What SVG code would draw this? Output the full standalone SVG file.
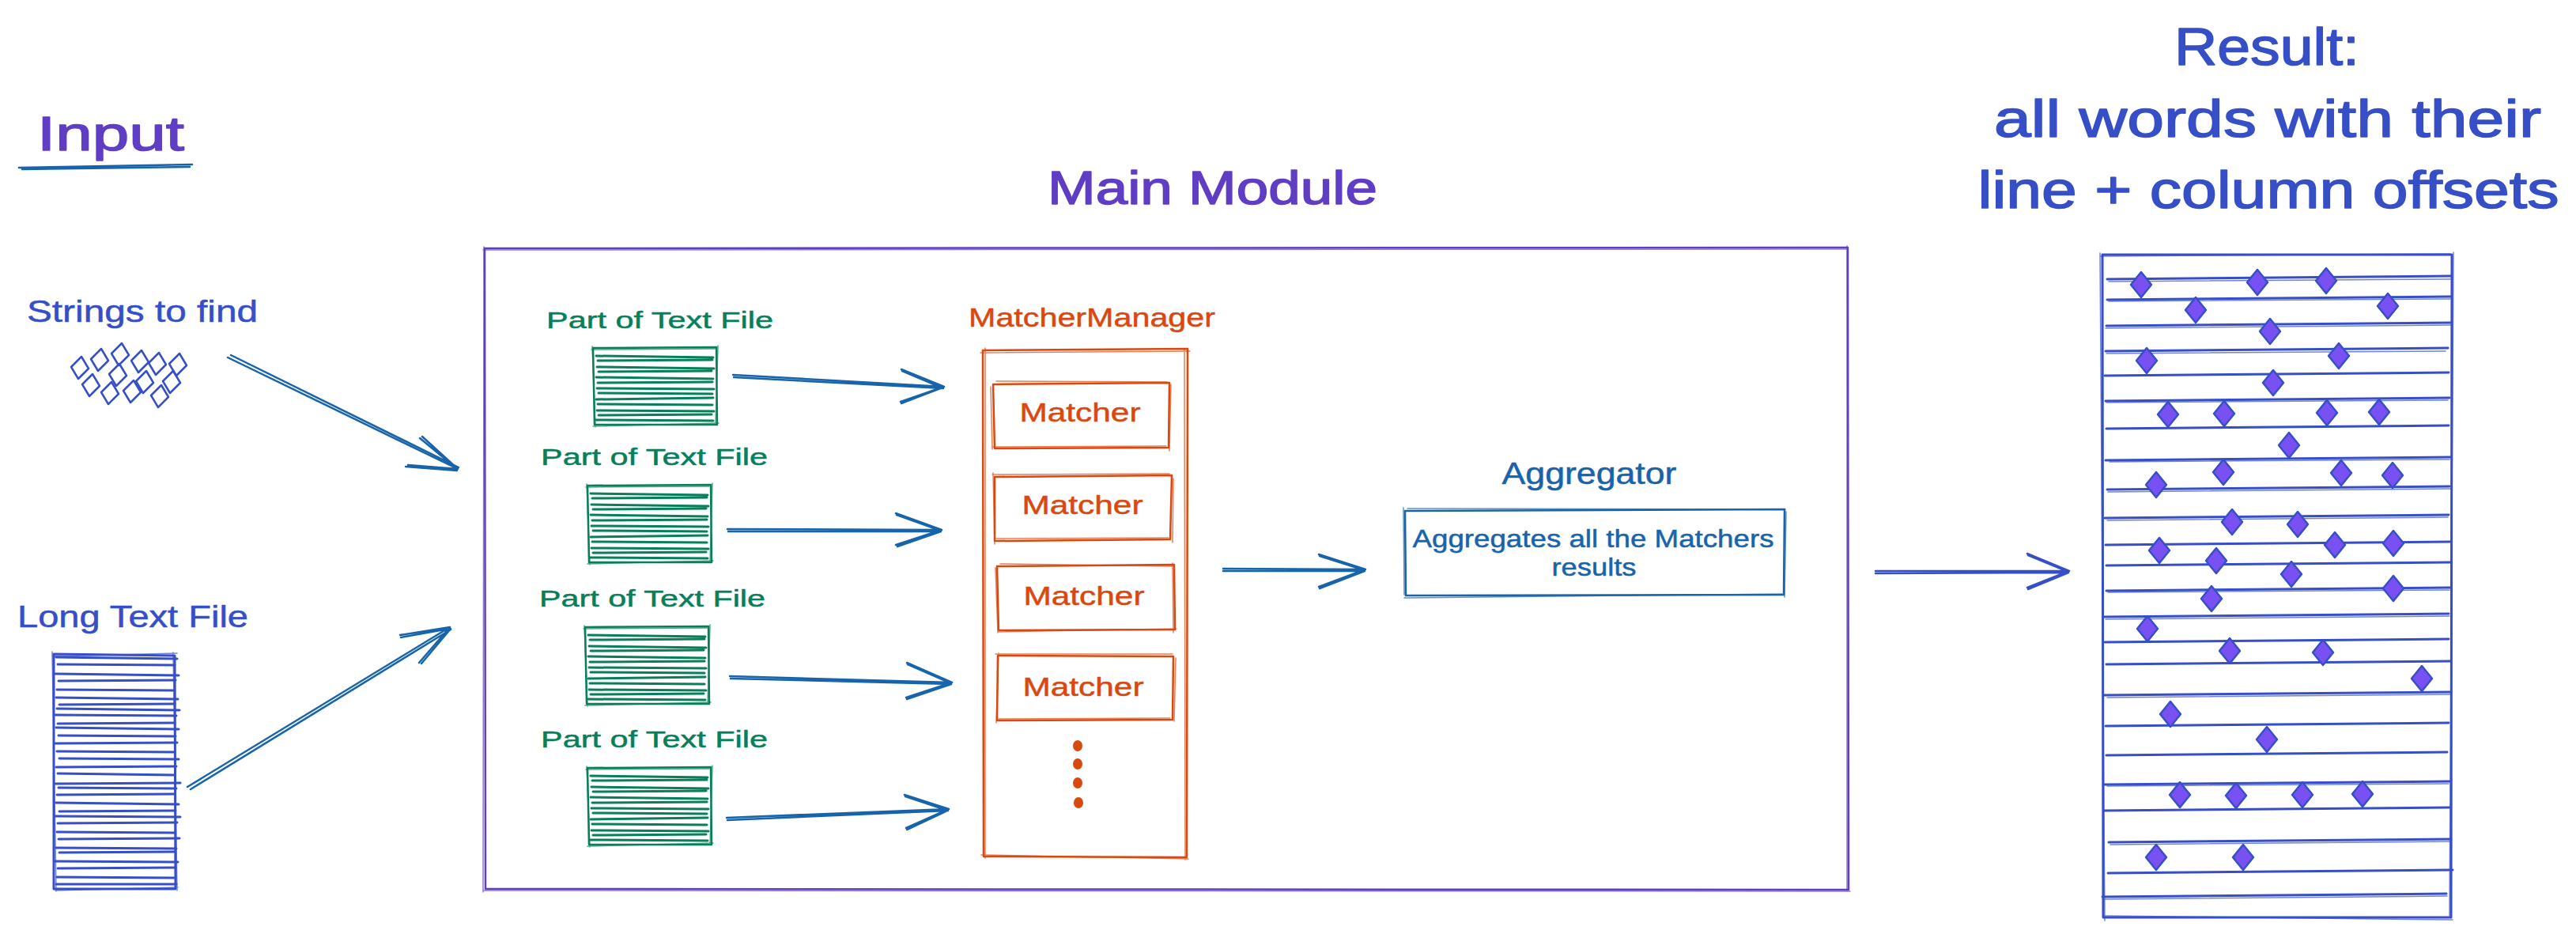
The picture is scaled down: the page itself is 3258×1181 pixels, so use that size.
<svg xmlns="http://www.w3.org/2000/svg" width="3258" height="1181" viewBox="0 0 3258 1181">
<style>
.s{fill:none;stroke-linecap:round;stroke-linejoin:round}
.v{stroke:#5f3dc4}
.b{stroke:#1864ab}
.i{stroke:#364fc7}
.g{stroke:#087f5b}
.o{stroke:#d9480f}
.w2{stroke-width:2.5}
.w3{stroke-width:3}
.f2{stroke-width:1.5;opacity:.7}
text{font-family:"Liberation Sans",Arial,sans-serif;stroke-linejoin:round;stroke-width:0.5}
.big{stroke-width:1.5}
.tv{fill:#5f3dc4;stroke:#5f3dc4}
.tb{fill:#1864ab;stroke:#1864ab}
.ti{fill:#364fc7;stroke:#364fc7}
.tg{fill:#087f5b;stroke:#087f5b}
.to{fill:#d9480f;stroke:#d9480f}
</style>
<defs>
<g id="stripes" class="s g">
<path class="w2" d="M-1 0 L155 -1 L156 97 L1 97 Z"/>
<path class="f2" d="M-3 2 L153 1 M157 -3 L154 96 M158 95 L-1 99 M2 100 L-2 -2"/>
<path class="w3" d="M3 10 L151 12 M5 16 L150 15 M4 24 L152 26 M6 30 L149 29 M3 37 L151 39 M5 44 L150 43 M4 51 L152 52 M6 57 L150 58 M3 65 L151 63 M5 71 L150 72 M4 79 L152 80 M6 85 L149 84 M3 91 L151 92"/>
</g>
<path id="dia" d="M0 -16 L13 0 L0 16 L-13 0 Z" fill="#7950f2" stroke="#364fc7" stroke-width="2.5" stroke-linejoin="round"/>
<path id="sdia" d="M2 -14 L11 1 L-2 14 L-11 -1 Z" fill="none" stroke="#364fc7" stroke-width="2.5" stroke-linejoin="round"/>
</defs>
<rect width="3258" height="1181" fill="#ffffff"/>

<g id="input-label">
<text class="tv big" x="47" y="190" font-size="62" textLength="186" lengthAdjust="spacingAndGlyphs">Input</text>
<path class="s b" stroke-width="2.5" d="M24 212 L243 208 M28 214 L240 211"/>
</g>

<g id="strings-to-find">
<text class="ti" x="34" y="407" font-size="38" textLength="292" lengthAdjust="spacingAndGlyphs">Strings to find</text>
<use href="#sdia" x="101" y="465"/>
<use href="#sdia" x="126" y="455"/>
<use href="#sdia" x="152" y="448"/>
<use href="#sdia" x="177" y="457"/>
<use href="#sdia" x="199" y="460"/>
<use href="#sdia" x="225" y="461"/>
<use href="#sdia" x="149" y="474"/>
<use href="#sdia" x="183" y="483"/>
<use href="#sdia" x="217" y="483"/>
<use href="#sdia" x="115" y="487"/>
<use href="#sdia" x="139" y="497"/>
<use href="#sdia" x="167" y="495"/>
<use href="#sdia" x="202" y="501"/>
</g>

<g id="long-text-file">
<text class="ti" x="22" y="793" font-size="38" textLength="292" lengthAdjust="spacingAndGlyphs">Long Text File</text>
<path class="s i w3" d="M68 827 L221 829 L222 1124 L68 1124 Z"/>
<path class="s i f2" d="M66 830 L224 826 M219 825 L224 1126 M225 1122 L70 1126 M71 1127 L66 824"/>
<path class="s i w3" d="M71 831 L224 833 M73 840 L221 841 M70 852 L226 854 M74 861 L222 860 M72 872 L219 873 M71 882 L225 884 M75 891 L221 890 M72 896 L227 898 M70 904 L223 905 M73 915 L221 914 M71 920 L226 922 M74 930 L222 931 M70 940 L224 939 M72 950 L220 951 M75 959 L226 960 M71 970 L223 969 M73 978 L221 980 M70 991 L228 990 M74 996 L223 997 M72 1005 L220 1004 M71 1015 L226 1017 M75 1026 L222 1025 M70 1032 L228 1033 M73 1041 L224 1040 M72 1052 L221 1053 M74 1061 L227 1060 M71 1072 L223 1073 M75 1078 L221 1077 M70 1089 L225 1090 M73 1098 L222 1097 M72 1109 L220 1110 M71 1118 L223 1118"/>
</g>

<g id="main-module">
<text class="tv big" x="1325" y="258" font-size="60" textLength="417" lengthAdjust="spacingAndGlyphs">Main Module</text>
<path class="s v w2" d="M613 314 L2337 313 L2338 1125 L614 1124 Z"/>
<path class="s v f2" d="M611 316 L2335 315 M2336 311 L2336 1127 M2340 1127 L612 1126 M611 1128 L612 312"/>
</g>

<g id="part1">
<text class="tg" x="691" y="415" font-size="30" textLength="287" lengthAdjust="spacingAndGlyphs">Part of Text File</text>
<use href="#stripes" x="751" y="440"/>
</g>
<g id="part2">
<text class="tg" x="684" y="588" font-size="30" textLength="287" lengthAdjust="spacingAndGlyphs">Part of Text File</text>
<use href="#stripes" x="744" y="614"/>
</g>
<g id="part3">
<text class="tg" x="682" y="767" font-size="30" textLength="286" lengthAdjust="spacingAndGlyphs">Part of Text File</text>
<use href="#stripes" x="741" y="793"/>
</g>
<g id="part4">
<text class="tg" x="684" y="945" font-size="30" textLength="287" lengthAdjust="spacingAndGlyphs">Part of Text File</text>
<use href="#stripes" x="744" y="971"/>
</g>

<g id="matcher-manager">
<text class="to" x="1225" y="413" font-size="34" textLength="312" lengthAdjust="spacingAndGlyphs">MatcherManager</text>
<path class="s o w2" d="M1243 443 L1502 441 L1501 1084 L1244 1083 Z"/>
<path class="s o f2" d="M1240 446 L1505 444 M1498 442 L1499 1087 M1503 1086 L1241 1081 M1246 1085 L1246 440"/>
<ellipse cx="1363" cy="943" rx="6" ry="7" fill="#d9480f"/>
<ellipse cx="1363" cy="966" rx="6" ry="7" fill="#d9480f"/>
<ellipse cx="1363" cy="990" rx="6" ry="7" fill="#d9480f"/>
<ellipse cx="1364" cy="1015" rx="6" ry="7" fill="#d9480f"/>
</g>
<g id="matcher1">
<path class="s o w2" d="M1256 486 L1479 484 L1478 566 L1258 567 Z"/>
<path class="s o f2" d="M1260 482 L1476 483 M1481 486 L1479 570 M1475 564 L1255 565 M1253 489 L1255 568"/>
<text class="to" x="1366" y="533" font-size="34" text-anchor="middle" textLength="153" lengthAdjust="spacingAndGlyphs">Matcher</text>
</g>
<g id="matcher2">
<path class="s o w2" d="M1258 603 L1482 601 L1480 682 L1258 684 Z"/>
<path class="s o f2" d="M1255 600 L1479 599 M1484 605 L1483 686 M1478 680 L1260 681 M1256 598 L1258 688"/>
<text class="to" x="1369" y="650" font-size="34" text-anchor="middle" textLength="153" lengthAdjust="spacingAndGlyphs">Matcher</text>
</g>
<g id="matcher3">
<path class="s o w2" d="M1261 716 L1485 714 L1486 796 L1263 797 Z"/>
<path class="s o f2" d="M1265 713 L1482 716 M1483 712 L1484 800 M1488 795 L1262 799 M1259 718 L1262 800"/>
<text class="to" x="1371" y="765" font-size="34" text-anchor="middle" textLength="153" lengthAdjust="spacingAndGlyphs">Matcher</text>
</g>
<g id="matcher4">
<path class="s o w2" d="M1262 829 L1484 830 L1483 910 L1261 911 Z"/>
<path class="s o f2" d="M1259 827 L1483 827 M1487 832 L1485 912 M1480 908 L1263 909 M1263 826 L1260 914"/>
<text class="to" x="1370" y="880" font-size="34" text-anchor="middle" textLength="153" lengthAdjust="spacingAndGlyphs">Matcher</text>
</g>

<g id="aggregator">
<text class="tb" x="2010" y="612" font-size="38" text-anchor="middle" textLength="221" lengthAdjust="spacingAndGlyphs">Aggregator</text>
<path class="s b w2" d="M1777 646 L2257 644 L2256 752 L1778 753 Z"/>
<path class="s b f2" d="M1780 643 L2258 644 M2259 647 L2257 755 M2254 751 L1776 756 M1775 642 L1776 752"/>
<text class="tb" x="2015" y="692" font-size="32" text-anchor="middle" textLength="457" lengthAdjust="spacingAndGlyphs">Aggregates all the Matchers</text>
<text class="tb" x="2016" y="728" font-size="32" text-anchor="middle" textLength="107" lengthAdjust="spacingAndGlyphs">results</text>
</g>

<g id="result">
<text class="ti big" x="2867" y="82" font-size="66" text-anchor="middle" textLength="234" lengthAdjust="spacingAndGlyphs">Result:</text>
<text class="ti big" x="2868" y="173" font-size="66" text-anchor="middle" textLength="692" lengthAdjust="spacingAndGlyphs">all words with their</text>
<text class="ti big" x="2869" y="263" font-size="66" text-anchor="middle" textLength="735" lengthAdjust="spacingAndGlyphs">line + column offsets</text>
<path class="s i w3" d="M2659 322 L3101 322 L3100 1160 L2660 1160 Z"/>
<path class="s i f2" d="M2657 324 L3099 321 M3103 319 L3098 1158 M3102 1163 L2661 1158 M2662 1164 L2656 320"/>
<path class="s i w3" d="M2665 353 L3100 349 M2665 379 L3100 375 M2664 412 L3100 408 M2663 444 L3096 440 M2662 475 L3097 471 M2663 507 L3098 503 M2664 542 L3097 538 M2663 582 L3100 578 M2665 619 L3098 615 M2662 655 L3097 651 M2663 689 L3099 685 M2664 715 L3100 711 M2664 747 L3099 743 M2660 780 L3097 776 M2662 812 L3097 808 M2664 840 L3099 836 M2661 879 L3100 875 M2663 918 L3097 914 M2664 955 L3095 951 M2662 992 L3098 988 M2661 1025 L3098 1021 M2667 1065 L3100 1061 M2666 1104 L3102 1100 M2659 1134 L3094 1130"/>
<path class="s i f2" d="M2667 356 L3099 353 M2667 381 L3099 378 M2663 415 L3101 411 M2664 447 L3093 444 M2664 509 L3096 506 M2668 584 L3098 581 M2666 622 L3100 618 M2665 658 L3096 654 M2666 749 L3098 746 M2663 783 L3098 779 M2665 882 L3099 878 M2665 994 L3097 991 M2669 1068 L3098 1064 M2662 1137 L3095 1133"/>
<use href="#dia" x="2708" y="360"/>
<use href="#dia" x="2855" y="357"/>
<use href="#dia" x="2942" y="355"/>
<use href="#dia" x="2777" y="392"/>
<use href="#dia" x="3020" y="387"/>
<use href="#dia" x="2871" y="419"/>
<use href="#dia" x="2715" y="456"/>
<use href="#dia" x="2958" y="450"/>
<use href="#dia" x="2875" y="484"/>
<use href="#dia" x="2742" y="524"/>
<use href="#dia" x="2813" y="523"/>
<use href="#dia" x="2943" y="522"/>
<use href="#dia" x="3009" y="521"/>
<use href="#dia" x="2895" y="563"/>
<use href="#dia" x="2812" y="597"/>
<use href="#dia" x="2727" y="613"/>
<use href="#dia" x="2961" y="598"/>
<use href="#dia" x="3026" y="601"/>
<use href="#dia" x="2823" y="660"/>
<use href="#dia" x="2906" y="663"/>
<use href="#dia" x="2731" y="696"/>
<use href="#dia" x="2953" y="689"/>
<use href="#dia" x="3027" y="687"/>
<use href="#dia" x="2803" y="709"/>
<use href="#dia" x="2898" y="726"/>
<use href="#dia" x="3027" y="744"/>
<use href="#dia" x="2797" y="757"/>
<use href="#dia" x="2716" y="795"/>
<use href="#dia" x="2820" y="823"/>
<use href="#dia" x="2938" y="825"/>
<use href="#dia" x="3063" y="858"/>
<use href="#dia" x="2745" y="903"/>
<use href="#dia" x="2867" y="935"/>
<use href="#dia" x="2757" y="1005"/>
<use href="#dia" x="2828" y="1006"/>
<use href="#dia" x="2912" y="1005"/>
<use href="#dia" x="2988" y="1004"/>
<use href="#dia" x="2727" y="1084"/>
<use href="#dia" x="2837" y="1084"/>
</g>

<g id="connectors" class="s" stroke-width="2.5">
<g class="b">
<path d="M288 452 L579 593 M292 449 L580 591 M579 593 L534 552 M577 592 L531 554 M579 593 L516 588 M578 595 L513 590"/>
<path d="M237 995 L569 793 M241 998 L570 796 M569 793 L506 803 M568 795 L507 806 M569 793 L530 838 M570 795 L533 839"/>
<path d="M927 474 L1194 489 M928 477 L1193 491 M1194 489 L1140 467 M1193 491 L1141 469 M1194 489 L1139 508 M1192 490 L1140 510"/>
<path d="M920 669 L1191 670 M921 672 L1190 672 M1191 670 L1133 649 M1190 671 L1134 651 M1191 670 L1133 689 M1190 672 L1135 691"/>
<path d="M923 855 L1204 863 M924 858 L1203 865 M1204 863 L1147 838 M1203 864 L1148 840 M1204 863 L1146 882 M1203 865 L1147 884"/>
<path d="M919 1034 L1200 1023 M920 1037 L1199 1025 M1200 1023 L1144 1005 M1199 1025 L1145 1007 M1200 1023 L1146 1047 M1198 1025 L1147 1049"/>
<path d="M1547 719 L1727 720 M1547 722 L1726 722 M1727 720 L1668 701 M1726 721 L1669 703 M1727 720 L1668 742 M1726 722 L1669 744"/>
</g>
<path class="i" d="M2372 722 L2617 722 M2372 725 L2616 724 M2617 722 L2564 700 M2616 723 L2565 702 M2617 722 L2564 743 M2616 724 L2565 745"/>
</g>
</svg>
